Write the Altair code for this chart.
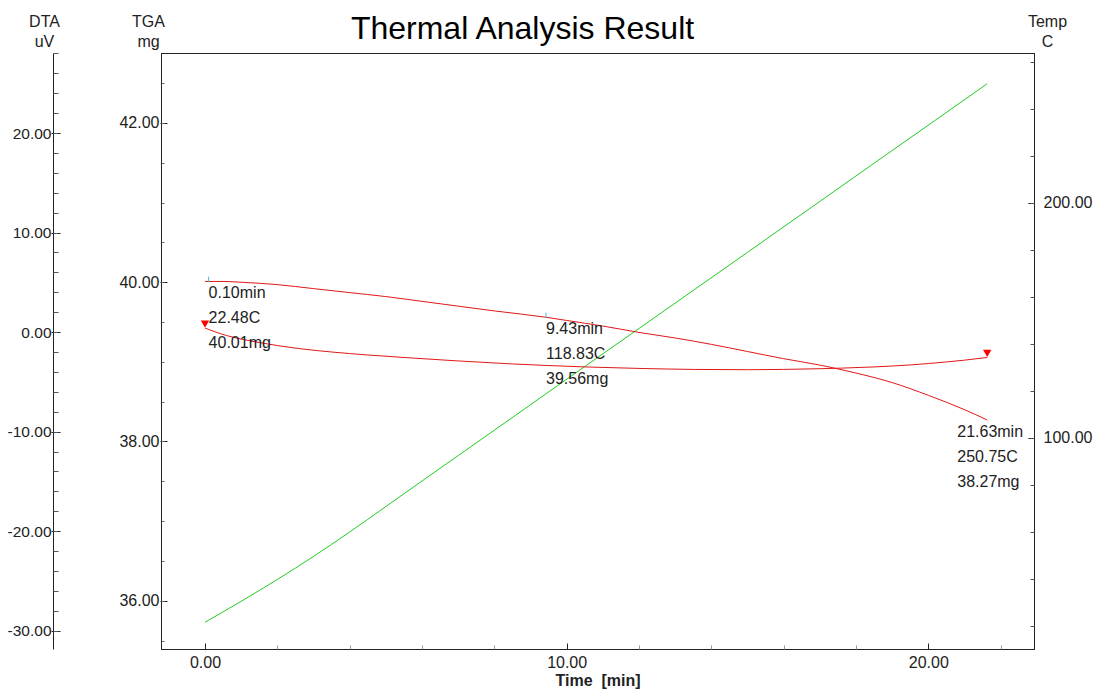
import altair as alt
import pandas as pd

FONT = "Liberation Sans"

# ---------------- data ----------------
tga_time = [0.0, 0.5, 1.0, 2.0, 3.0, 4.0, 5.0, 6.0, 7.0, 8.0, 9.43, 10.0, 11.0, 12.0,
            13.0, 14.0, 15.0, 16.0, 17.0, 18.0, 19.0, 20.0, 21.0, 21.63]
tga_mg = [40.01, 40.01, 40.00, 39.97, 39.92, 39.87, 39.82, 39.76, 39.70, 39.64, 39.56, 39.52,
          39.45, 39.37, 39.30, 39.22, 39.13, 39.04, 38.96, 38.86, 38.74, 38.58, 38.40, 38.27]

dta_time = [0.0, 0.3, 0.6, 1.0, 1.5, 2.0, 2.7, 3.5, 4.5, 5.5, 7.0, 8.5, 9.43, 10.5, 12.0,
            13.5, 15.0, 16.0, 17.0, 17.6, 18.5, 19.5, 20.5, 21.0, 21.63]
dta_uv = [0.40, 0.00, -0.35, -0.70, -1.05, -1.35, -1.70, -2.00, -2.30, -2.55, -2.90, -3.20,
          -3.35, -3.50, -3.65, -3.75, -3.78, -3.75, -3.68, -3.62, -3.50, -3.30, -3.00, -2.82, -2.55]

temp_time = [0.0, 0.1, 1.0, 2.0, 3.0, 4.0, 5.0, 6.0, 7.0, 8.0, 9.43, 12.0, 15.0, 18.0, 21.63]
temp_c = [21.6, 22.48, 30.5, 39.8, 49.6, 60.0, 70.8, 81.7, 92.5, 103.3, 118.83, 146.6, 179.0,
          211.5, 250.75]

mark_time = [0.10, 9.43, 21.63]
mark_temp = [22.48, 118.83, 250.75]
mark_mg = [40.01, 39.56, 38.27]

x_major = [0, 10, 20]
x_minor = [2, 4, 6, 8, 12, 14, 16, 18, 22]
tga_major = [36, 38, 40, 42]
tga_minor = [35.5 + 0.5 * i for i in range(15)]
dta_major = [-30, -20, -10, 0, 10, 20]
dta_minor = list(range(-30, 30, 2))
temp_major = [100, 200]
temp_minor = list(range(20, 280, 20))

# ---------------- geometry ----------------
W, H = 873, 596
X_DOM = [-1.2166, 22.923]
TGA_DOM = [35.394, 42.879]
DTA_DOM = [-31.84, 28.04]
TEMP_DOM = [10.21, 263.83]


def sc(dom):
    return alt.Scale(domain=dom, nice=False, zero=False)


FMT = "(datum.value < 0 ? '-' : '') + format(abs(datum.value), '.2f')"

df_tga = pd.DataFrame({"t": tga_time, "m": tga_mg})
df_dta = pd.DataFrame({"t": dta_time, "v": dta_uv})
df_temp = pd.DataFrame({"t": temp_time, "c": temp_c})
df_mark = pd.DataFrame({
    "t": mark_time,
    "c": mark_temp,
    "m": mark_mg,
    "lab": [f"{t:.2f}min\n{c:.2f}C\n{m:.2f}mg" for t, c, m in zip(mark_time, mark_temp, mark_mg)],
})
df_tri = pd.DataFrame({"t": [dta_time[0], dta_time[-1]], "v": [dta_uv[0], dta_uv[-1]]})


def y_axis_layer(vals, dom, axis):
    return alt.Chart(pd.DataFrame({"v": vals})).mark_point(opacity=0).encode(
        y=alt.Y("v:Q", scale=sc(dom), axis=axis)
    )


def x_axis_layer(vals, axis):
    return alt.Chart(pd.DataFrame({"v": vals})).mark_point(opacity=0).encode(
        x=alt.X("v:Q", scale=sc(X_DOM), axis=axis)
    )


common_title = dict(titleAngle=0, titleAlign="center", titleBaseline="alphabetic",
                    titleFontSize=16, titleFontWeight="normal", titleLineHeight=20, titleY=-27)

# X axis
x_lab = x_axis_layer(x_major, alt.Axis(
    orient="bottom", values=x_major, labelExpr=FMT, labelFontSize=16, labelPadding=5,
    ticks=True, tickSize=0, domain=True, title="Time\u00a0 [min]", titleFontSize=16,
    titleFontWeight="bold", titleY=36, titleBaseline="alphabetic"))
x_maj = x_axis_layer(x_major, alt.Axis(
    orient="top", offset=-H, values=x_major, labels=False, domain=False, ticks=True,
    tickSize=6, tickColor="#222", title=None))
x_min = x_axis_layer(x_minor, alt.Axis(
    orient="top", offset=-H, values=x_minor, labels=False, domain=False, ticks=True,
    tickSize=4, tickColor="#999", title=None))

# TGA axis (left edge of plot)
tga_lab = y_axis_layer(tga_major, TGA_DOM, alt.Axis(
    orient="left", values=tga_major, labelExpr=FMT, labelFontSize=16, ticks=True, tickSize=1,
    labelPadding=1, domain=True, title=["TGA", "mg"], titleX=-13, **common_title))
tga_maj = y_axis_layer(tga_major, TGA_DOM, alt.Axis(
    orient="right", offset=-W, values=tga_major, labels=False, domain=False, ticks=True,
    tickSize=6, title=None))
tga_min = y_axis_layer(tga_minor, TGA_DOM, alt.Axis(
    orient="right", offset=-W, values=tga_minor, labels=False, domain=False, ticks=True,
    tickSize=3, tickColor="#666", title=None))

# DTA axis (far left)
dta_lab = y_axis_layer(dta_major, DTA_DOM, alt.Axis(
    orient="left", offset=108, values=dta_major, labelExpr=FMT, labelFontSize=15.5, ticks=True,
    tickSize=2, labelPadding=0, domain=True, title=["DTA", "uV"], titleX=-9, **common_title))
dta_maj = y_axis_layer(dta_major, DTA_DOM, alt.Axis(
    orient="right", offset=-(W + 108), values=dta_major, labels=False, domain=False,
    ticks=True, tickSize=7, title=None))
dta_min = y_axis_layer(dta_minor, DTA_DOM, alt.Axis(
    orient="right", offset=-(W + 108), values=dta_minor, labels=False, domain=False,
    ticks=True, tickSize=5, tickColor="#555", title=None))

# Temp axis (right edge)
temp_lab = y_axis_layer(temp_major, TEMP_DOM, alt.Axis(
    orient="right", values=temp_major, labelExpr=FMT, labelFontSize=16, ticks=True,
    tickSize=0, labelPadding=9, domain=True, title=["Temp", "C"], titleX=13, **common_title))
temp_maj = y_axis_layer(temp_major, TEMP_DOM, alt.Axis(
    orient="left", offset=-W, values=temp_major, labels=False, domain=False, ticks=True,
    tickSize=6, title=None))
temp_min = y_axis_layer(temp_minor, TEMP_DOM, alt.Axis(
    orient="left", offset=-W, values=temp_minor, labels=False, domain=False, ticks=True,
    tickSize=4, tickColor="#555", title=None))

# Data layers
temp_line = alt.Chart(df_temp).mark_line(color="#22cc22", strokeWidth=1, interpolate="monotone").encode(
    x=alt.X("t:Q", scale=sc(X_DOM), axis=None),
    y=alt.Y("c:Q", scale=sc(TEMP_DOM), axis=None),
)
tga_line = alt.Chart(df_tga).mark_line(color="#e01818", strokeWidth=1, interpolate="monotone").encode(
    x=alt.X("t:Q", scale=sc(X_DOM), axis=None),
    y=alt.Y("m:Q", scale=sc(TGA_DOM), axis=None),
)
dta_line = alt.Chart(df_dta).mark_line(color="#e01818", strokeWidth=1, interpolate="monotone").encode(
    x=alt.X("t:Q", scale=sc(X_DOM), axis=None),
    y=alt.Y("v:Q", scale=sc(DTA_DOM), axis=None),
)
tri = alt.Chart(df_tri).mark_point(shape="triangle-down", filled=True, color="#ff0000",
                                   size=70, opacity=1, yOffset=-4).encode(
    x=alt.X("t:Q", scale=sc(X_DOM), axis=None),
    y=alt.Y("v:Q", scale=sc(DTA_DOM), axis=None),
)
cyan = alt.Chart(df_mark).transform_filter("datum.t < 20").mark_point(
    shape="M0,-1L0,1", filled=False, color="#44bbcc", size=30, strokeWidth=1, opacity=1, yOffset=-2
).encode(
    x=alt.X("t:Q", scale=sc(X_DOM), axis=None),
    y=alt.Y("m:Q", scale=sc(TGA_DOM), axis=None),
)
text_a = alt.Chart(df_mark).transform_filter("datum.t < 20").mark_text(
    align="left", baseline="top", dy=4, lineBreak="\n", lineHeight=25, fontSize=16,
    font=FONT, color="#222"
).encode(
    x=alt.X("t:Q", scale=sc(X_DOM), axis=None),
    y=alt.Y("m:Q", scale=sc(TGA_DOM), axis=None),
    text="lab:N",
)
text_b = alt.Chart(df_mark).transform_filter("datum.t >= 20").mark_text(
    align="left", baseline="top", dy=4, dx=-30, lineBreak="\n", lineHeight=25, fontSize=16,
    font=FONT, color="#222"
).encode(
    x=alt.X("t:Q", scale=sc(X_DOM), axis=None),
    y=alt.Y("m:Q", scale=sc(TGA_DOM), axis=None),
    text="lab:N",
)

chart = alt.layer(
    x_lab, x_maj, x_min,
    tga_lab, tga_maj, tga_min,
    dta_lab, dta_maj, dta_min,
    temp_lab, temp_maj, temp_min,
    temp_line, tga_line, dta_line, tri, cyan, text_a, text_b,
).resolve_scale(
    x="independent", y="independent"
).properties(
    width=W, height=H,
    autosize=alt.AutoSizeParams(type="none"),
    padding={"left": 153, "top": 45, "right": 60, "bottom": 41},
    title=alt.TitleParams(
        text="Thermal Analysis Result", fontSize=32, font=FONT, fontWeight="normal",
        color="#000", anchor="middle", frame="group", dx=-75, dy=58,
        baseline="alphabetic", offset=0),
).configure_view(
    stroke="#222", strokeWidth=1
).configure_axis(
    grid=False, labelFont=FONT, titleFont=FONT, labelColor="#222", titleColor="#222",
    domainColor="#222", tickColor="#222", labelFontSize=16
)

chart.save("out.html", embed_options={"renderer": "svg", "actions": False})
